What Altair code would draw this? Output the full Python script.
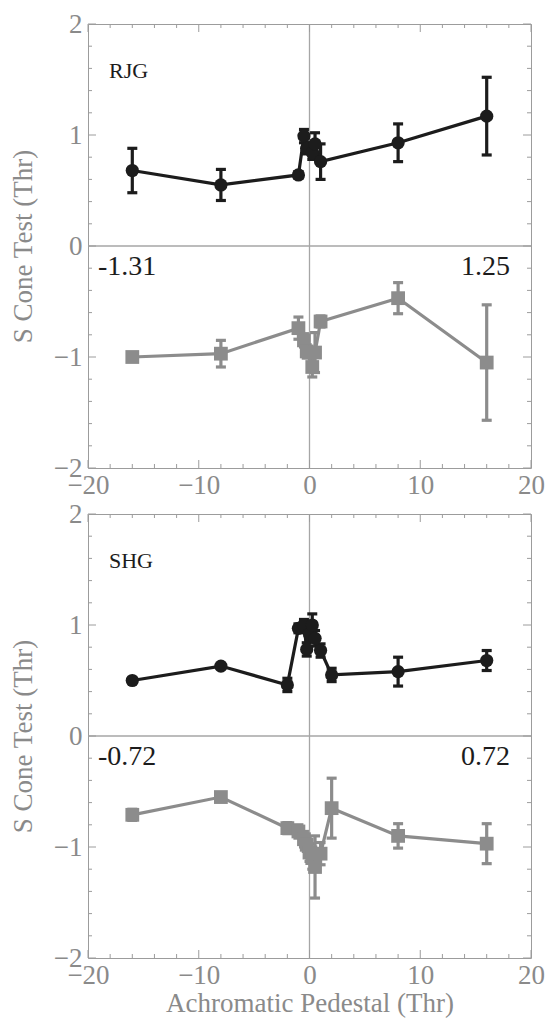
import altair as alt
import pandas as pd

# ---------------- data ----------------
pedestal_rjg = [-16, -8, -1, -0.5, -0.25, 0.25, 0.5, 1, 8, 16]
rjg_black = [0.68, 0.55, 0.64, 0.99, 0.88, 0.84, 0.92, 0.76, 0.93, 1.17]
rjg_black_err = [0.20, 0.14, 0.03, 0.06, 0.05, 0.06, 0.10, 0.16, 0.17, 0.35]
rjg_gray = [-1.00, -0.97, -0.74, -0.85, -0.95, -1.09, -0.96, -0.68, -0.47, -1.05]
rjg_gray_err = [0.02, 0.12, 0.10, 0.06, 0.06, 0.09, 0.18, 0.05, 0.14, 0.52]

pedestal_shg = [-16, -8, -2, -1, -0.5, -0.25, 0, 0.25, 0.5, 1, 2, 8, 16]
shg_black = [0.50, 0.63, 0.46, 0.97, 1.00, 0.78, 0.92, 1.00, 0.88, 0.77, 0.55, 0.58, 0.68]
shg_black_err = [0.02, 0.02, 0.06, 0.04, 0.05, 0.06, 0.06, 0.10, 0.07, 0.06, 0.06, 0.13, 0.09]
shg_gray = [-0.71, -0.55, -0.83, -0.86, -0.93, -0.98, -1.05, -1.10, -1.18, -1.06, -0.65, -0.90, -0.97]
shg_gray_err = [0.05, 0.04, 0.05, 0.06, 0.07, 0.06, 0.08, 0.10, 0.28, 0.10, 0.27, 0.11, 0.18]

panel_names = ["RJG", "SHG"]
left_notes = ["-1.31", "-0.72"]
right_notes = ["1.25", "0.72"]

x_tick_labels = [-20, -10, 0, 10, 20]
y_tick_labels = [-2, -1, 0, 1, 2]
x_minor = [-20, -18, -16, -14, -12, -10, -8, -6, -4, -2, 0, 2, 4, 6, 8, 10, 12, 14, 16, 18, 20]
y_minor = [-2.0, -1.8, -1.6, -1.4, -1.2, -1.0, -0.8, -0.6, -0.4, -0.2, 0.0,
           0.2, 0.4, 0.6, 0.8, 1.0, 1.2, 1.4, 1.6, 1.8, 2.0]

x_title = "Achromatic Pedestal (Thr)"
y_title = "S Cone Test (Thr)"

# ---------------- styling ----------------
W, H = 443, 444
BLACK = "#1c1c1c"
GRAY = "#8c8c8c"
FRAME = "#9c9c9c"
FONT = "Liberation Serif"

xscale = alt.Scale(domain=[-20, 20], nice=False, zero=False)
yscale = alt.Scale(domain=[-2, 2], nice=False, zero=False)


def x_axis(with_title):
    return alt.Axis(values=x_tick_labels, title=x_title if with_title else None,
                    labelPadding=4, titlePadding=2, labelOverlap=False, labelFlush=False,
                    domain=False, ticks=False, grid=False)


y_axis = alt.Axis(values=y_tick_labels, title=y_title, labelPadding=6, titlePadding=16,
                  labelOverlap=False, labelFlush=False, domain=False, ticks=False, grid=False)


def X(field, with_title):
    return alt.X(field, type="quantitative", scale=xscale, axis=x_axis(with_title))


def Y(field):
    return alt.Y(field, type="quantitative", scale=yscale, axis=y_axis)


def series_layers(xs, ys, errs, color, shape, size, with_title):
    df = pd.DataFrame({"x": xs, "y": ys, "e": errs})
    base = alt.Chart(df).transform_calculate(lo="datum.y - datum.e", hi="datum.y + datum.e")
    line = base.mark_line(color=color, strokeWidth=3.2).encode(x=X("x", with_title), y=Y("y"))
    bar = base.mark_rule(color=color, strokeWidth=3.2).encode(
        x=X("x", with_title), y=Y("lo"), y2="hi")
    cap_lo = base.mark_tick(color=color, orient="horizontal", size=10, thickness=3.2, opacity=1).encode(
        x=X("x", with_title), y=Y("lo"))
    cap_hi = base.mark_tick(color=color, orient="horizontal", size=10, thickness=3.2, opacity=1).encode(
        x=X("x", with_title), y=Y("hi"))
    pts = base.mark_point(color=color, filled=True, shape=shape, size=size, opacity=1).encode(
        x=X("x", with_title), y=Y("y"))
    return [line, bar, cap_lo, cap_hi, pts]


def frame_ticks(with_title):
    xt = pd.DataFrame({"v": x_minor})
    yt = pd.DataFrame({"v": y_minor})
    layers = []
    for major, ln in ((False, 4), (True, 8)):
        cond = "abs(datum.v % 10) < 0.001" if major else "abs(datum.v % 10) >= 0.001"
        condy = "abs(datum.v - round(datum.v)) < 0.001" if major else "abs(datum.v - round(datum.v)) >= 0.001"
        bx = alt.Chart(xt).transform_filter(cond).mark_rule(color=FRAME, strokeWidth=1)
        layers.append(bx.encode(x=X("v", with_title), y=alt.value(H), y2=alt.value(H - ln)))
        layers.append(bx.encode(x=X("v", with_title), y=alt.value(0), y2=alt.value(ln)))
        by = alt.Chart(yt).transform_filter(condy).mark_rule(color=FRAME, strokeWidth=1)
        layers.append(by.encode(y=Y("v"), x=alt.value(0), x2=alt.value(ln)))
        layers.append(by.encode(y=Y("v"), x=alt.value(W), x2=alt.value(W - ln)))
    return layers


def panel(i, xs, yb, eb, yg, eg, with_title):
    zero = pd.DataFrame({"v": [0]})
    zx = alt.Chart(zero).mark_rule(color="#a6a6a6", strokeWidth=1.3).encode(x=X("v", with_title))
    zy = alt.Chart(zero).mark_rule(color="#a6a6a6", strokeWidth=1.3).encode(y=Y("v"))
    name = alt.Chart(pd.DataFrame({"t": [panel_names[i]]})).mark_text(
        font=FONT, fontSize=22, color=BLACK, align="left", baseline="alphabetic").encode(
        text="t:N", x=alt.value(21), y=alt.value(54))
    ln = alt.Chart(pd.DataFrame({"t": [left_notes[i]]})).mark_text(
        font=FONT, fontSize=28, color=BLACK, align="left", baseline="alphabetic").encode(
        text="t:N", x=alt.value(10), y=alt.value(251))
    rn = alt.Chart(pd.DataFrame({"t": [right_notes[i]]})).mark_text(
        font=FONT, fontSize=28, color=BLACK, align="right", baseline="alphabetic").encode(
        text="t:N", x=alt.value(422), y=alt.value(251))
    layers = [zx, zy] + frame_ticks(with_title)
    layers += series_layers(xs, yg, eg, GRAY, "square", 190, with_title)
    layers += series_layers(xs, yb, eb, BLACK, "circle", 175, with_title)
    layers += [name, ln, rn]
    return alt.layer(*layers).properties(width=W, height=H)


top = panel(0, pedestal_rjg, rjg_black, rjg_black_err, rjg_gray, rjg_gray_err, False)
bottom = panel(1, pedestal_shg, shg_black, shg_black_err, shg_gray, shg_gray_err, True)

chart = alt.vconcat(top, bottom, spacing=46, bounds="flush").properties(
    padding={"left": 8, "top": 9, "right": 1, "bottom": 2},
    background="white",
).configure_view(stroke=FRAME, strokeWidth=1).configure_axis(
    domain=False, ticks=False, grid=False,
    labelFont=FONT, labelFontSize=27, labelColor="#8a8a8a",
    titleFont=FONT, titleFontSize=27, titleColor="#8a8a8a", titleFontWeight="normal",
)

chart.save("out.html", embed_options={"renderer": "svg", "actions": False})
